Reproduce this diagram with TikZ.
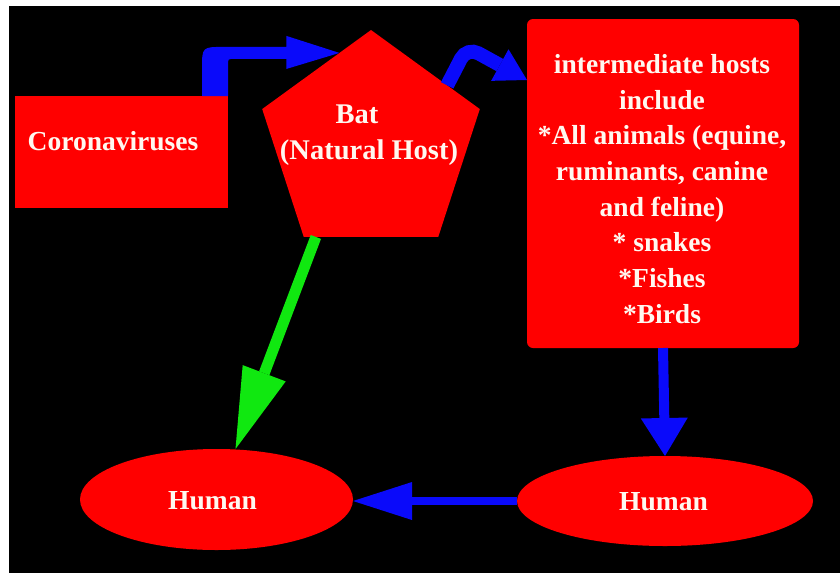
\documentclass[tikz,border=0pt]{standalone}
\usepackage{fontspec}
\setmainfont{Liberation Serif}
\usetikzlibrary{arrows.meta,shapes.geometric,calc}
\definecolor{hred}{RGB}{255,0,0}
\definecolor{hblue}{RGB}{10,10,250}
\definecolor{hgreen}{RGB}{16,232,16}
\definecolor{htext}{RGB}{255,248,240}
\begin{document}
\begin{tikzpicture}[x=1pt,y=-1pt,
  lbl/.style={text=htext,font=\bfseries\fontsize{27.5}{35.7}\selectfont,inner sep=0pt,outer sep=0pt},
  redshape/.style={fill=hred,inner sep=0pt,outer sep=0pt},
  conn/.style={line width=#1}]
\useasboundingbox (0,0) rectangle (840,573);
\fill[white] (0,0) rectangle (840,573);
\fill[black] (9,6) rectangle (840,573);

% shapes
\node[redshape,rectangle,minimum width=213pt,minimum height=112pt] (cor) at (121.5,152) {};
\node[redshape,regular polygon,regular polygon sides=5,minimum size=228.8pt] (bat) at (371,144.4) {};
\node[redshape,rectangle,rounded corners=6pt,minimum width=272pt,minimum height=329pt] (int) at (663,183.5) {};
\node[redshape,ellipse,minimum width=273pt,minimum height=101pt] (hl) at (216.5,499.5) {};
\node[redshape,ellipse,minimum width=296pt,minimum height=90pt] (hr) at (665,501) {};

% texts
\node[lbl,anchor=base] (cortext) at (113,150) {Coronaviruses};
\node[lbl,align=center,font=\bfseries\fontsize{28.5}{35.7}\selectfont] (battext) at (369,135) {Bat\hspace*{24pt}\\(Natural Host)};
\node[lbl,align=center] (inttext) at (662,189) {intermediate hosts\\include\\*All animals (equine,\\ruminants, canine\\and feline)\\* snakes\\*Fishes\\*Birds};
\node[lbl,anchor=base] (hltext) at (212.5,509) {Human};
\node[lbl,anchor=base] (hrtext) at (663.5,510) {Human};

% arrow 1: Coronaviruses -> Bat (bent block arrow)
\coordinate (a1) at ($(bat.corner 1)!0.29!(bat.corner 2)$);
\coordinate (p0) at ($(cor.north east)+(-26,0)$);
\path (a1) ++(-53,-6) coordinate (h1) ++(0,-11) coordinate (h2) ++(0,33) coordinate (h3) ++(0,-10) coordinate (h4);
\fill[hblue] (p0) -- ($(p0|-h1)+(0,22)$) .. controls (p0|-h1) .. ($(p0|-h1)+(22,0)$)
  -- (h1) -- (h2) -- (a1) -- (h3) -- (h4) -- ($(cor.north east|-h4)+(6,0)$)
  .. controls (cor.north east|-h4) .. ($(cor.north east|-h4)+(0,6)$) -- (cor.north east) -- cycle;

% arrow 2: Bat -> intermediate hosts
\coordinate (s2) at ($(bat.corner 1)!0.70!(bat.corner 5)$);
\coordinate (a2) at ($(int.north west)+(0,61)$);
\draw[hblue,conn=14pt,rounded corners=13pt,-{Triangle[length=31pt,width=36pt,line width=0pt]}]
  (s2) -- (467,47) -- (a2);

% arrow 3: Bat -> Human (green)
\coordinate (g0) at ($(bat.corner 3)!0.09!(bat.corner 4)$);
\draw[hgreen,conn=11pt,-{Triangle[length=81pt,width=46pt,line width=0pt]}]
  (g0) -- ($(hl.north)+(19,0)$);

% arrow 4: intermediate -> Human (right)
\draw[hblue,conn=10pt,-{Triangle[length=38pt,width=47pt,line width=0pt]}]
  (int.south) -- (hr.north);

% arrow 5: Human (right) -> Human (left)
\draw[hblue,conn=8.5pt,-{Triangle[length=59pt,width=38pt,line width=0pt]}]
  (hr.west) -- (hl.east |- hr.west);
\end{tikzpicture}
\end{document}
